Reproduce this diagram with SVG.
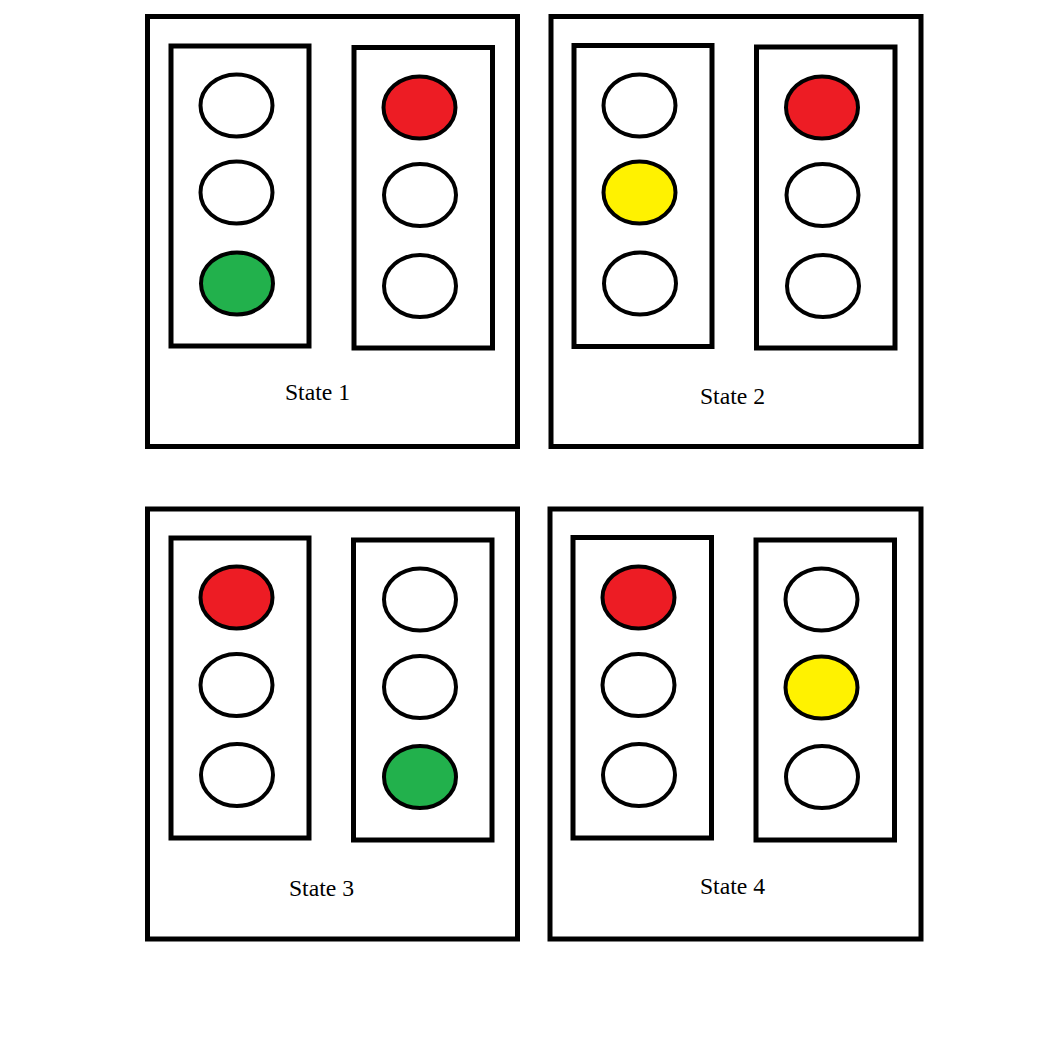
<svg xmlns="http://www.w3.org/2000/svg" width="1060" height="1052" viewBox="0 0 1060 1052">
<style>
.outer{fill:none;stroke:#000;stroke-width:5}
.inner{fill:none;stroke:#000;stroke-width:5}
.lamp{stroke:#000;stroke-width:4}
.off{fill:#fff}
.red{fill:#ED1C24}
.yel{fill:#FFF200}
.grn{fill:#22B14C}
.lbl{font-family:"Liberation Serif","Times New Roman",serif;font-size:23.7px;fill:#000;text-anchor:middle}
</style>
<rect width="1060" height="1052" fill="#fff"/>
<g id="state1">
<rect class="outer" x="147.5" y="16.5" width="370" height="430"/>
<rect class="inner" x="171" y="46" width="138" height="300"/>
<rect class="inner" x="354" y="47.5" width="138.5" height="300.5"/>
<ellipse class="lamp off" cx="236.5" cy="105.5" rx="36" ry="31"/>
<ellipse class="lamp off" cx="236.5" cy="192.5" rx="36" ry="31"/>
<ellipse class="lamp grn" cx="237" cy="283.5" rx="36" ry="31"/>
<ellipse class="lamp red" cx="419.5" cy="107.5" rx="36" ry="31"/>
<ellipse class="lamp off" cx="420" cy="195" rx="36" ry="31"/>
<ellipse class="lamp off" cx="420" cy="286" rx="36" ry="31"/>
<text class="lbl" x="317.5" y="400">State 1</text>
</g>
<g id="state2">
<rect class="outer" x="551" y="16.5" width="370" height="430"/>
<rect class="inner" x="574" y="45.5" width="138" height="301"/>
<rect class="inner" x="756.5" y="47" width="138.5" height="301"/>
<ellipse class="lamp off" cx="639.5" cy="105.5" rx="36" ry="31"/>
<ellipse class="lamp yel" cx="639.5" cy="192.5" rx="36" ry="31"/>
<ellipse class="lamp off" cx="640" cy="283.5" rx="36" ry="31"/>
<ellipse class="lamp red" cx="822" cy="107.5" rx="36" ry="31"/>
<ellipse class="lamp off" cx="822.5" cy="195" rx="36" ry="31"/>
<ellipse class="lamp off" cx="823" cy="286" rx="36" ry="31"/>
<text class="lbl" x="732.5" y="404">State 2</text>
</g>
<g id="state3">
<rect class="outer" x="147.5" y="509" width="370" height="430"/>
<rect class="inner" x="171" y="538" width="138" height="300"/>
<rect class="inner" x="353.5" y="540" width="138.5" height="300"/>
<ellipse class="lamp red" cx="236.5" cy="597.5" rx="36" ry="31"/>
<ellipse class="lamp off" cx="236.5" cy="685" rx="36" ry="31"/>
<ellipse class="lamp off" cx="237" cy="775" rx="36" ry="31"/>
<ellipse class="lamp off" cx="420" cy="599.5" rx="36" ry="31"/>
<ellipse class="lamp off" cx="420" cy="687" rx="36" ry="31"/>
<ellipse class="lamp grn" cx="420" cy="777" rx="36" ry="31"/>
<text class="lbl" x="321.5" y="896">State 3</text>
</g>
<g id="state4">
<rect class="outer" x="550" y="509" width="371" height="430"/>
<rect class="inner" x="573" y="537.5" width="138.5" height="300.5"/>
<rect class="inner" x="756" y="540" width="138.5" height="300"/>
<ellipse class="lamp red" cx="638.5" cy="597.5" rx="36" ry="31"/>
<ellipse class="lamp off" cx="638.5" cy="685" rx="36" ry="31"/>
<ellipse class="lamp off" cx="639" cy="775" rx="36" ry="31"/>
<ellipse class="lamp off" cx="821.5" cy="599.5" rx="36" ry="31"/>
<ellipse class="lamp yel" cx="821.5" cy="687.5" rx="36" ry="31"/>
<ellipse class="lamp off" cx="822" cy="777" rx="36" ry="31"/>
<text class="lbl" x="732.5" y="894">State 4</text>
</g>
<g id="connectors"></g>
</svg>
